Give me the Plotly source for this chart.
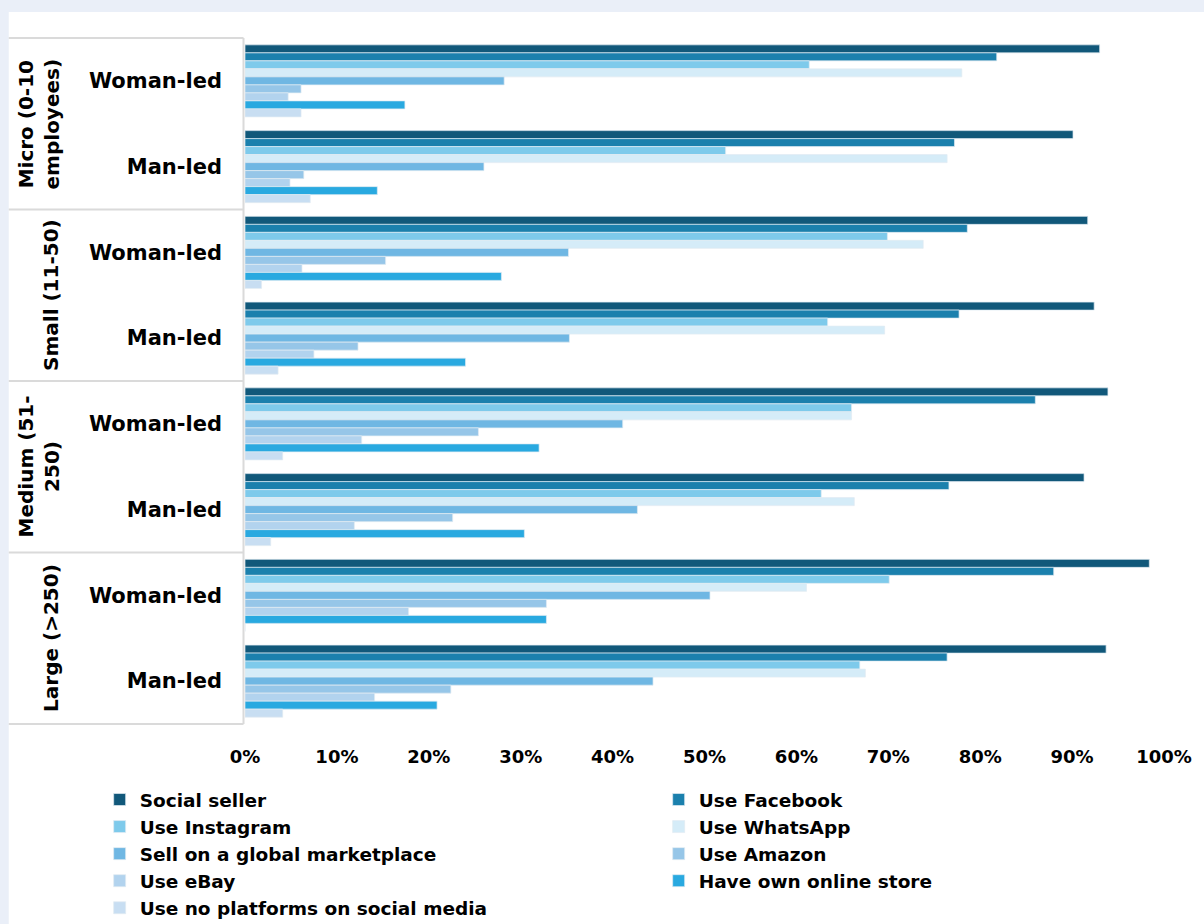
import plotly.graph_objects as go

# ---------------- data ----------------
size_groups = ["Micro (0-10<br>employees)", "Small (11-50)", "Medium (51-<br>250)", "Large (>250)"]
size_keys = ["Micro", "Small", "Medium", "Large"]
leaders = ["Woman-led", "Man-led"]

series_names = [
    "Social seller", "Use Facebook", "Use Instagram", "Use WhatsApp",
    "Sell on a global marketplace", "Use Amazon", "Use eBay",
    "Have own online store", "Use no platforms on social media",
]
series_colors = [
    "#11587A", "#1B80AD", "#7ECAEB", "#D5ECF8",
    "#6FB7E3", "#96C6E8", "#B2D3EE", "#29A9E0", "#C8DEF2",
]

# rows: Micro W, Micro M, Small W, Small M, Medium W, Medium M, Large W, Large M
social_seller = [93.0, 90.1, 91.7, 92.4, 93.9, 91.3, 98.4, 93.7]
use_facebook = [81.8, 77.2, 78.6, 77.7, 86.0, 76.6, 88.0, 76.4]
use_instagram = [61.4, 52.3, 69.9, 63.4, 66.0, 62.7, 70.1, 66.9]
use_whatsapp = [78.0, 76.4, 73.8, 69.6, 66.0, 66.3, 61.1, 67.5]
global_marketplace = [28.2, 26.0, 35.2, 35.3, 41.1, 42.7, 50.6, 44.4]
use_amazon = [6.1, 6.4, 15.3, 12.3, 25.4, 22.6, 32.8, 22.4]
use_ebay = [4.7, 4.9, 6.2, 7.5, 12.7, 11.9, 17.8, 14.1]
own_store = [17.4, 14.4, 27.9, 24.0, 32.0, 30.4, 32.8, 20.9]
no_platforms = [6.1, 7.1, 1.8, 3.6, 4.1, 2.8, 0.0, 4.1]

series_values = [
    social_seller, use_facebook, use_instagram, use_whatsapp,
    global_marketplace, use_amazon, use_ebay, own_store, no_platforms,
]

x_ticks = [0, 10, 20, 30, 40, 50, 60, 70, 80, 90, 100]
x_tick_labels = [f"{v}%" for v in x_ticks]

# ---------------- build ----------------
row_keys = [f"{s}|{l}" for s in size_keys for l in leaders]
row_labels = [l for s in size_keys for l in leaders]

FONT = "'DejaVu Sans', Lato, sans-serif"
WEIGHT = "bold"

fig = go.Figure()
for name, color, vals in zip(series_names, series_colors, series_values):
    fig.add_trace(go.Bar(
        y=row_keys, x=vals, name=name, orientation="h",
        marker=dict(color=color, line=dict(color="rgba(225,235,242,0.7)", width=1)),
    ))

W, H = 1204, 924
L, R, T, B = 244.5, W - 1164.5, 37, H - 725
pw, ph = W - L - R, H - T - B


def px_x(x):
    return (x - L) / pw


def px_y(y):
    return (H - B - y) / ph


shapes = [
    dict(type="rect", xref="paper", yref="paper", layer="below",
         x0=px_x(8), x1=px_x(W + 5), y0=px_y(H + 5), y1=px_y(12),
         fillcolor="white", line=dict(width=0)),
]
for k in range(len(size_keys) + 1):
    yy = 2 * k - 0.5
    shapes.append(dict(type="line", xref="paper", yref="y",
                       x0=px_x(8), x1=px_x(243), y0=yy, y1=yy,
                       line=dict(color="#DADADA", width=2)))
shapes.append(dict(type="line", xref="paper", yref="y",
                   x0=px_x(243), x1=px_x(243), y0=-0.5, y1=2 * len(size_keys) - 0.5,
                   line=dict(color="#DADADA", width=2)))

annotations = []
for i, g in enumerate(size_groups):
    annotations.append(dict(
        text=g, xref="paper", yref="y", x=px_x(65), y=2 * i + 0.5,
        xanchor="right", yanchor="middle", textangle=-90, showarrow=False,
        align="center",
        font=dict(family=FONT, size=20, color="black", weight=WEIGHT),
    ))

fig.update_layout(
    width=W, height=H,
    margin=dict(l=L, r=R, t=T, b=B, pad=0, autoexpand=False),
    paper_bgcolor="#EAEFF8",
    plot_bgcolor="white",
    barmode="group", bargap=0.16, bargroupgap=0,
    font=dict(family=FONT, size=18, color="black", weight=WEIGHT),
    xaxis=dict(range=[0, 100], tickmode="array", tickvals=x_ticks, ticktext=x_tick_labels,
               showgrid=False, zeroline=False, showline=False,
               ticks="", ticklabelstandoff=19, automargin=False,
               tickfont=dict(family=FONT, size=18, color="black", weight=WEIGHT)),
    yaxis=dict(categoryorder="array", categoryarray=row_keys, autorange="reversed",
               tickvals=row_keys, ticktext=row_labels, showgrid=False,
               zeroline=False, showline=False, ticks="", ticklabelstandoff=22,
               automargin=False,
               tickfont=dict(family=FONT, size=21, color="black", weight=WEIGHT)),
    legend=dict(orientation="h", x=px_x(99), xanchor="left",
                y=px_y(781), yanchor="top", traceorder="normal",
                entrywidth=514, entrywidthmode="pixels",
                bgcolor="rgba(0,0,0,0)",
                font=dict(family=FONT, size=18.5, color="black", weight=WEIGHT)),
    shapes=shapes,
    annotations=annotations,
    showlegend=True,
)

fig.write_html("out.html", config={"displayModeBar": False},
               post_script="document.body.style.margin='0px';")
